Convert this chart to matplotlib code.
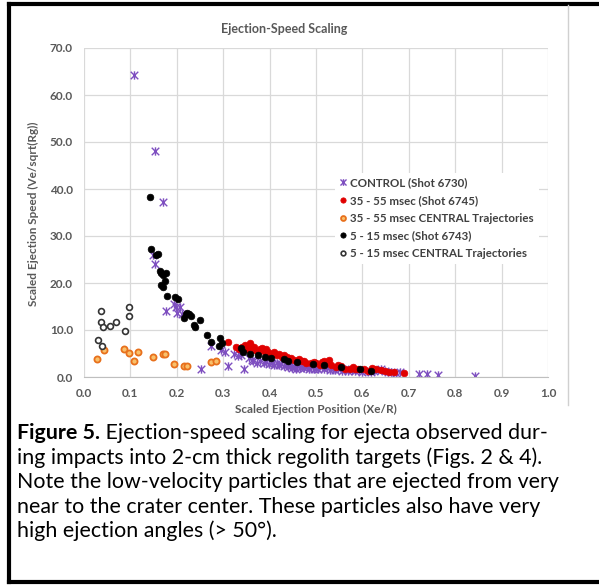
import matplotlib
matplotlib.use("Agg")
import matplotlib.pyplot as plt
from matplotlib.lines import Line2D
from matplotlib.path import Path

# ---- data ----
control_x = [0.108, 0.152, 0.170, 0.149, 0.154, 0.176, 0.193, 0.198, 0.206, 0.201, 0.212,
             0.253, 0.274, 0.295, 0.303, 0.310, 0.324, 0.331, 0.338, 0.345, 0.356, 0.362,
             0.365, 0.372, 0.380, 0.387, 0.393, 0.398, 0.405, 0.410, 0.415, 0.420, 0.425,
             0.430, 0.436, 0.440, 0.445, 0.449, 0.452, 0.456, 0.460, 0.465, 0.470, 0.474,
             0.480, 0.485, 0.490, 0.495, 0.500, 0.505, 0.512, 0.518, 0.524, 0.530, 0.536,
             0.542, 0.548, 0.555, 0.562, 0.570, 0.578, 0.585, 0.592, 0.600, 0.610, 0.618,
             0.626, 0.634, 0.640, 0.648, 0.655, 0.662, 0.672, 0.680,
             0.722, 0.739, 0.764, 0.842]
control_y = [64.3, 48.0, 37.3, 26.0, 24.1, 14.1, 15.6, 14.9, 14.9, 13.6, 13.3,
             1.8, 6.5, 5.8, 5.4, 2.3, 4.8, 4.4, 4.6, 1.8, 4.0, 3.6,
             3.4, 3.0, 3.3, 2.9, 3.1, 2.7, 3.0, 2.6, 2.9, 2.5, 2.8,
             2.4, 2.7, 2.2, 2.6, 2.0, 2.4, 1.8, 2.3, 2.0, 2.4, 1.9,
             2.2, 1.8, 2.1, 1.6, 2.0, 1.8, 2.1, 1.6, 1.9, 1.5, 1.8,
             1.4, 1.7, 1.3, 1.6, 1.2, 1.5, 1.2, 1.4, 1.1, 1.3, 1.0,
             1.2, 1.5, 1.7, 1.2, 1.0, 1.1, 0.9, 1.0,
             0.6, 0.6, 0.5, 0.3]

late_x = [0.310, 0.328, 0.335, 0.340, 0.347, 0.354, 0.358, 0.352, 0.343, 0.348, 0.360,
          0.364, 0.366, 0.369, 0.374, 0.379, 0.384, 0.387, 0.392, 0.396, 0.401, 0.404,
          0.410, 0.411, 0.416, 0.421, 0.426, 0.430, 0.437, 0.442, 0.447, 0.452, 0.458,
          0.463, 0.469, 0.474, 0.479, 0.489, 0.495, 0.500, 0.509, 0.514, 0.518, 0.523,
          0.527, 0.533, 0.543, 0.548, 0.553, 0.563, 0.573, 0.580, 0.584, 0.590, 0.604,
          0.611, 0.620, 0.630, 0.641, 0.649, 0.658, 0.668, 0.690]
late_y = [7.4, 6.3, 6.0, 6.4, 6.8, 6.6, 7.2, 5.9, 5.7, 6.2, 6.7,
          6.1, 6.4, 5.7, 5.4, 5.9, 6.1, 5.5, 5.9, 5.4, 4.7, 5.0,
          5.3, 4.9, 4.7, 4.9, 4.3, 4.6, 4.2, 3.8, 4.0, 3.6, 3.3,
          3.9, 3.5, 3.3, 3.0, 2.9, 3.2, 2.9, 2.6, 3.1, 3.5, 2.9,
          3.6, 2.6, 2.2, 2.6, 2.3, 1.8, 1.8, 2.1, 1.8, 1.8, 1.6,
          1.3, 1.9, 1.6, 1.5, 1.3, 1.1, 1.0, 0.9]

late_central_x = [0.029, 0.044, 0.087, 0.097, 0.107, 0.117, 0.149, 0.170, 0.175,
                  0.194, 0.216, 0.222, 0.273, 0.284]
late_central_y = [3.8, 5.7, 5.9, 5.2, 3.5, 5.3, 4.3, 4.8, 4.8,
                  2.8, 2.3, 2.3, 3.1, 3.3]

early_x = [0.142, 0.145, 0.156, 0.159, 0.163, 0.167, 0.171, 0.176, 0.167, 0.171, 0.175,
           0.179, 0.197, 0.202, 0.220, 0.223, 0.227, 0.230, 0.216, 0.236, 0.239, 0.251,
           0.266, 0.273, 0.293, 0.297, 0.291, 0.338, 0.343, 0.357, 0.376, 0.390, 0.403,
           0.430, 0.440, 0.459, 0.494, 0.518, 0.553, 0.594, 0.618]
early_y = [38.3, 27.2, 26.0, 26.2, 22.6, 22.1, 21.8, 22.1, 19.6, 19.2, 20.5,
           17.2, 17.0, 16.6, 13.3, 13.6, 13.3, 12.9, 12.6, 11.1, 10.7, 12.1,
           8.9, 7.4, 8.4, 7.3, 6.5, 6.1, 5.4, 4.9, 4.6, 4.2, 4.1,
           3.8, 3.5, 3.1, 2.8, 2.5, 2.1, 1.6, 1.3]

early_central_x = [0.037, 0.098, 0.037, 0.041, 0.057, 0.069, 0.098, 0.088, 0.031, 0.039]
early_central_y = [14.0, 14.8, 11.6, 10.6, 10.9, 11.7, 13.0, 9.8, 7.9, 6.5]

series_labels = ["CONTROL (Shot 6730)", "35 - 55 msec (Shot 6745)",
                 "35 - 55 msec CENTRAL Trajectories", "5 - 15 msec (Shot 6743)",
                 "5 - 15 msec CENTRAL Trajectories"]
x_ticks = [round(0.1 * i, 1) for i in range(11)]
y_ticks = [10 * i for i in range(8)]

caption_bold = "Figure 5."
caption_lines = [" Ejection-speed scaling for ejecta observed dur-",
                 "ing impacts into 2-cm thick regolith targets (Figs. 2 & 4).",
                 "Note the low-velocity particles that are ejected from very",
                 "near to the crater center. These particles also have very",
                 "high ejection angles (> 50°)."]

# ---- layout (pixels) ----
W, H = 599, 585
plt.rcParams['font.family'] = ['Lato', 'DejaVu Sans']
GRAY = '#595959'


def fx(px):
    return px / W


def fy(py):
    return 1 - py / H


fig = plt.figure(figsize=(W / 100, H / 100), dpi=100)

# black frame of the screenshot + right edge of the chart image
for xs, ys, lw, col in [([9, 9], [4, 582], 3, 'black'), ([9, 599], [4, 4], 3, 'black'),
                        ([9, 599], [582, 582], 3, 'black'), ([568, 568], [5, 405], 1, '#D0D0D0')]:
    fig.add_artist(Line2D([fx(v) for v in xs], [fy(v) for v in ys], color=col, lw=lw,
                          transform=fig.transFigure))

left, right, top, bottom = 84, 548, 48, 377
ax = fig.add_axes([fx(left), fy(bottom), fx(right - left), (bottom - top) / H])

star = Path([(-1, -1), (1, 1), (-1, 1), (1, -1), (0, -1.1), (0, 1.1)],
            [Path.MOVETO, Path.LINETO] * 3)

ax.plot(control_x, control_y, ls='none', marker=star, ms=6, mfc='none', mec='#7E4FC0',
        mew=1.0, label=series_labels[0])
ax.plot(late_x, late_y, ls='none', marker='o', ms=4.8, mfc='#E00000', mec='#E00000',
        mew=0.5, label=series_labels[1])
ax.plot(late_central_x, late_central_y, ls='none', marker='o', ms=4.4, mfc='#F9C06A',
        mec='#E8701C', mew=1.3, label=series_labels[2])
ax.plot(early_x, early_y, ls='none', marker='o', ms=4.8, mfc='black', mec='black',
        mew=0.5, label=series_labels[3])
ax.plot(early_central_x, early_central_y, ls='none', marker='o', ms=4.2, mfc='white',
        mec='#333333', mew=1.2, label=series_labels[4])

ax.set_xlim(0, 1.0)
ax.set_ylim(0, 70)
ax.set_xticks(x_ticks)
ax.set_yticks(y_ticks)
ax.set_xticklabels([f"{v:.1f}" for v in x_ticks])
ax.set_yticklabels([f"{v:.1f}" for v in y_ticks])
ax.tick_params(length=0, labelsize=8.5, labelcolor=GRAY, pad=8)
for lab in ax.get_xticklabels() + ax.get_yticklabels():
    lab.set_fontweight('bold')
ax.grid(True, color='#D9D9D9', lw=0.9)
ax.set_axisbelow(True)
for side in ['left', 'right', 'top']:
    ax.spines[side].set_visible(False)
ax.spines['bottom'].set_color('#BFBFBF')

fig.text(fx(284), fy(29), "Ejection-Speed Scaling", ha='center', va='center',
         fontsize=9, fontweight='bold', color=GRAY)
fig.text(fx(33), fy(214), "Scaled Ejection Speed (Ve/sqrt(Rg))", rotation=90,
         ha='center', va='center', fontsize=8.5, fontweight='bold', color=GRAY)
fig.text(fx(316), fy(409), "Scaled Ejection Position (Xe/R)", ha='center', va='center',
         fontsize=8.5, fontweight='bold', color=GRAY)

ax.legend(loc='upper left', bbox_to_anchor=(fx(329), fy(167)), bbox_transform=fig.transFigure,
          frameon=True, facecolor='white', edgecolor='none', fancybox=False, framealpha=1,
          handlelength=0.6, handletextpad=0.35, labelspacing=0.58, borderpad=0.4,
          prop={'size': 8.3, 'weight': 'bold'}, labelcolor='#404040', markerscale=0.8)

# caption
renderer = fig.canvas.get_renderer()
line_y = [433, 458, 482, 507, 531]
bold_txt = fig.text(fx(17), fy(line_y[0]), caption_bold, ha='left', va='center',
                    fontsize=15.4, fontweight='bold', color='black')
bw = bold_txt.get_window_extent(renderer).width
for i, (txt, py) in enumerate(zip(caption_lines, line_y)):
    x0 = 17 + (bw if i == 0 else 0)
    fig.text(fx(x0), fy(py), txt, ha='left', va='center', fontsize=15.4, color='black')

fig.savefig("out.png", dpi=100)
